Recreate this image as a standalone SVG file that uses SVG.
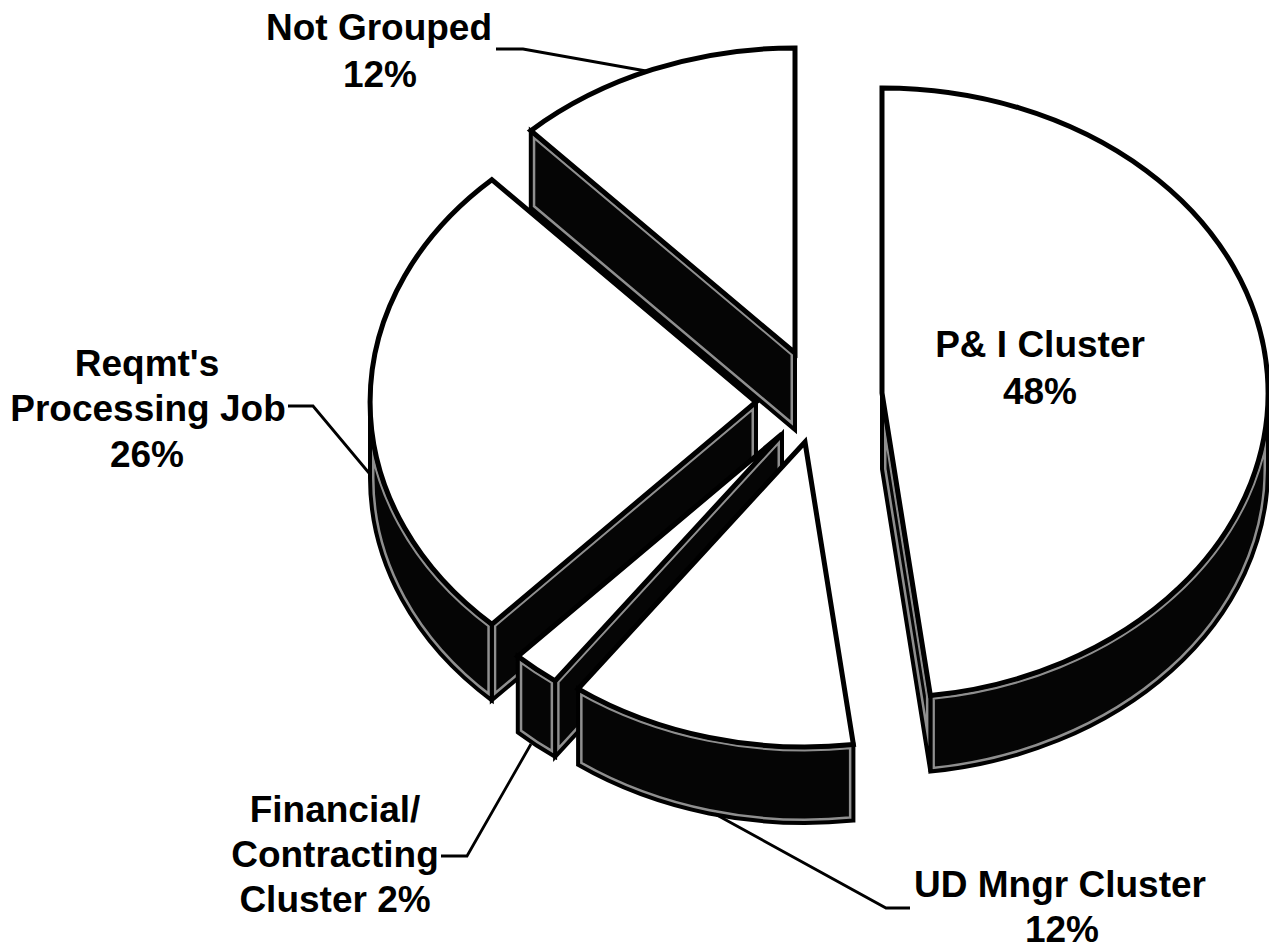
<svg xmlns="http://www.w3.org/2000/svg" width="1269" height="950" viewBox="0 0 1269 950">
<style>
  .top{fill:#fff;stroke:#000;stroke-width:5;stroke-linejoin:miter;stroke-miterlimit:8}
  .side{fill:#050505;stroke:none}
  .inset{fill:none;stroke:#8f8f8f;stroke-width:9}
  .edge{fill:none;stroke:#000;stroke-width:4;stroke-linejoin:miter;stroke-miterlimit:8}
  .lbl{font-family:"Liberation Sans",Arial,sans-serif;font-weight:bold;font-size:37px;fill:#000;text-anchor:middle}
  .leader{fill:none;stroke:#000;stroke-width:2.8;stroke-linejoin:miter}
</style>
<defs>
  <path id="ng-face" d="M795,353 L530.8,130.7 L530.8,207.7 L795,430 Z"/>
  <path id="rq-face" d="M756,402 L491.8,624.3 L491.8,700.3 L756,478 Z"/>
  <path id="rq-wall" d="M491.8,624.3 A386,305 0 0 1 370,402 L370,478 A386,305 0 0 0 491.8,700.3 Z"/>
  <path id="pi-wall" d="M1268,393 A386,305 0 0 1 930.4,695.6 L930.4,771.6 A386,305 0 0 0 1268,469 Z"/>
  <path id="pi-cut" d="M882,393 L930.4,695.6 L930.4,771.6 L882,469 Z"/>
  <path id="fi-face" d="M782,434 L555.1,680.8 L555.1,756.8 L782,510 Z"/>
  <path id="fi-wall" d="M555.1,680.8 A386,305 0 0 1 517.8,656.3 L517.8,732.3 A386,305 0 0 0 555.1,756.8 Z"/>
  <path id="ud-wall" d="M853.4,744.6 A386,305 0 0 1 578.1,688.8 L578.1,764.8 A386,305 0 0 0 853.4,820.6 Z"/>
  <clipPath id="c-ng-face"><use href="#ng-face"/></clipPath>
  <clipPath id="c-rq-face"><use href="#rq-face"/></clipPath>
  <clipPath id="c-rq-wall"><use href="#rq-wall"/></clipPath>
  <clipPath id="c-pi-wall"><use href="#pi-wall"/></clipPath>
  <clipPath id="c-pi-cut"><use href="#pi-cut"/></clipPath>
  <clipPath id="c-fi-face"><use href="#fi-face"/></clipPath>
  <clipPath id="c-fi-wall"><use href="#fi-wall"/></clipPath>
  <clipPath id="c-ud-wall"><use href="#ud-wall"/></clipPath>
</defs>
<rect width="1269" height="950" fill="#fff"/>

<g id="node-not-grouped">
  <use href="#ng-face" class="side"/>
  <use href="#ng-face" class="inset" clip-path="url(#c-ng-face)"/>
  <use href="#ng-face" class="edge"/>
  <path class="top" d="M795,353 L530.8,130.7 A386,305 0 0 1 795,48 Z"/>
  <text class="lbl" x="379" y="40">Not Grouped</text>
  <text class="lbl" x="380" y="87">12%</text>
</g>

<g id="node-reqmt">
  <use href="#rq-face" class="side"/>
  <use href="#rq-face" class="inset" clip-path="url(#c-rq-face)"/>
  <use href="#rq-face" class="edge"/>
  <use href="#rq-wall" class="side"/>
  <use href="#rq-wall" class="inset" clip-path="url(#c-rq-wall)"/>
  <use href="#rq-wall" class="edge"/>
  <path class="top" d="M756,402 L491.8,624.3 A386,305 0 0 1 491.8,179.7 Z"/>
  <text class="lbl" x="147" y="376">Reqmt's</text>
  <text class="lbl" x="148" y="421">Processing Job</text>
  <text class="lbl" x="147" y="467">26%</text>
</g>

<g id="node-pi">
  <use href="#pi-wall" class="side"/>
  <use href="#pi-wall" class="inset" clip-path="url(#c-pi-wall)"/>
  <use href="#pi-wall" class="edge"/>
  <use href="#pi-cut" class="side"/>
  <use href="#pi-cut" class="inset" clip-path="url(#c-pi-cut)"/>
  <use href="#pi-cut" class="edge"/>
  <path class="top" d="M882,393 L882,88 A386,305 0 0 1 930.4,695.6 Z"/>
  <text class="lbl" x="1040" y="357">P&amp; I Cluster</text>
  <text class="lbl" x="1040" y="404">48%</text>
</g>

<g id="node-financial">
  <use href="#fi-face" class="side"/>
  <use href="#fi-face" class="inset" clip-path="url(#c-fi-face)"/>
  <use href="#fi-face" class="edge"/>
  <use href="#fi-wall" class="side"/>
  <use href="#fi-wall" class="inset" clip-path="url(#c-fi-wall)"/>
  <use href="#fi-wall" class="edge"/>
  <path class="top" d="M782,434 L555.1,680.8 A386,305 0 0 1 517.8,656.3 Z"/>
  <text class="lbl" x="335" y="822">Financial/</text>
  <text class="lbl" x="335" y="867">Contracting</text>
  <text class="lbl" x="335" y="912">Cluster 2%</text>
</g>

<g id="node-ud">
  <use href="#ud-wall" class="side"/>
  <use href="#ud-wall" class="inset" clip-path="url(#c-ud-wall)"/>
  <use href="#ud-wall" class="edge"/>
  <path class="top" d="M805,442 L853.4,744.6 A386,305 0 0 1 578.1,688.8 Z"/>
  <text class="lbl" x="1060" y="897">UD Mngr Cluster</text>
  <text class="lbl" x="1062" y="942">12%</text>
</g>

<g id="connectors">
  <path class="leader" d="M496,49 L523,49 L646,71"/>
  <path class="leader" d="M288,406 L313,406 L369,473"/>
  <path class="leader" d="M441,856 L467,856 L531,744"/>
  <path class="leader" d="M715,814 L886,908 L910,908"/>
</g>
</svg>
